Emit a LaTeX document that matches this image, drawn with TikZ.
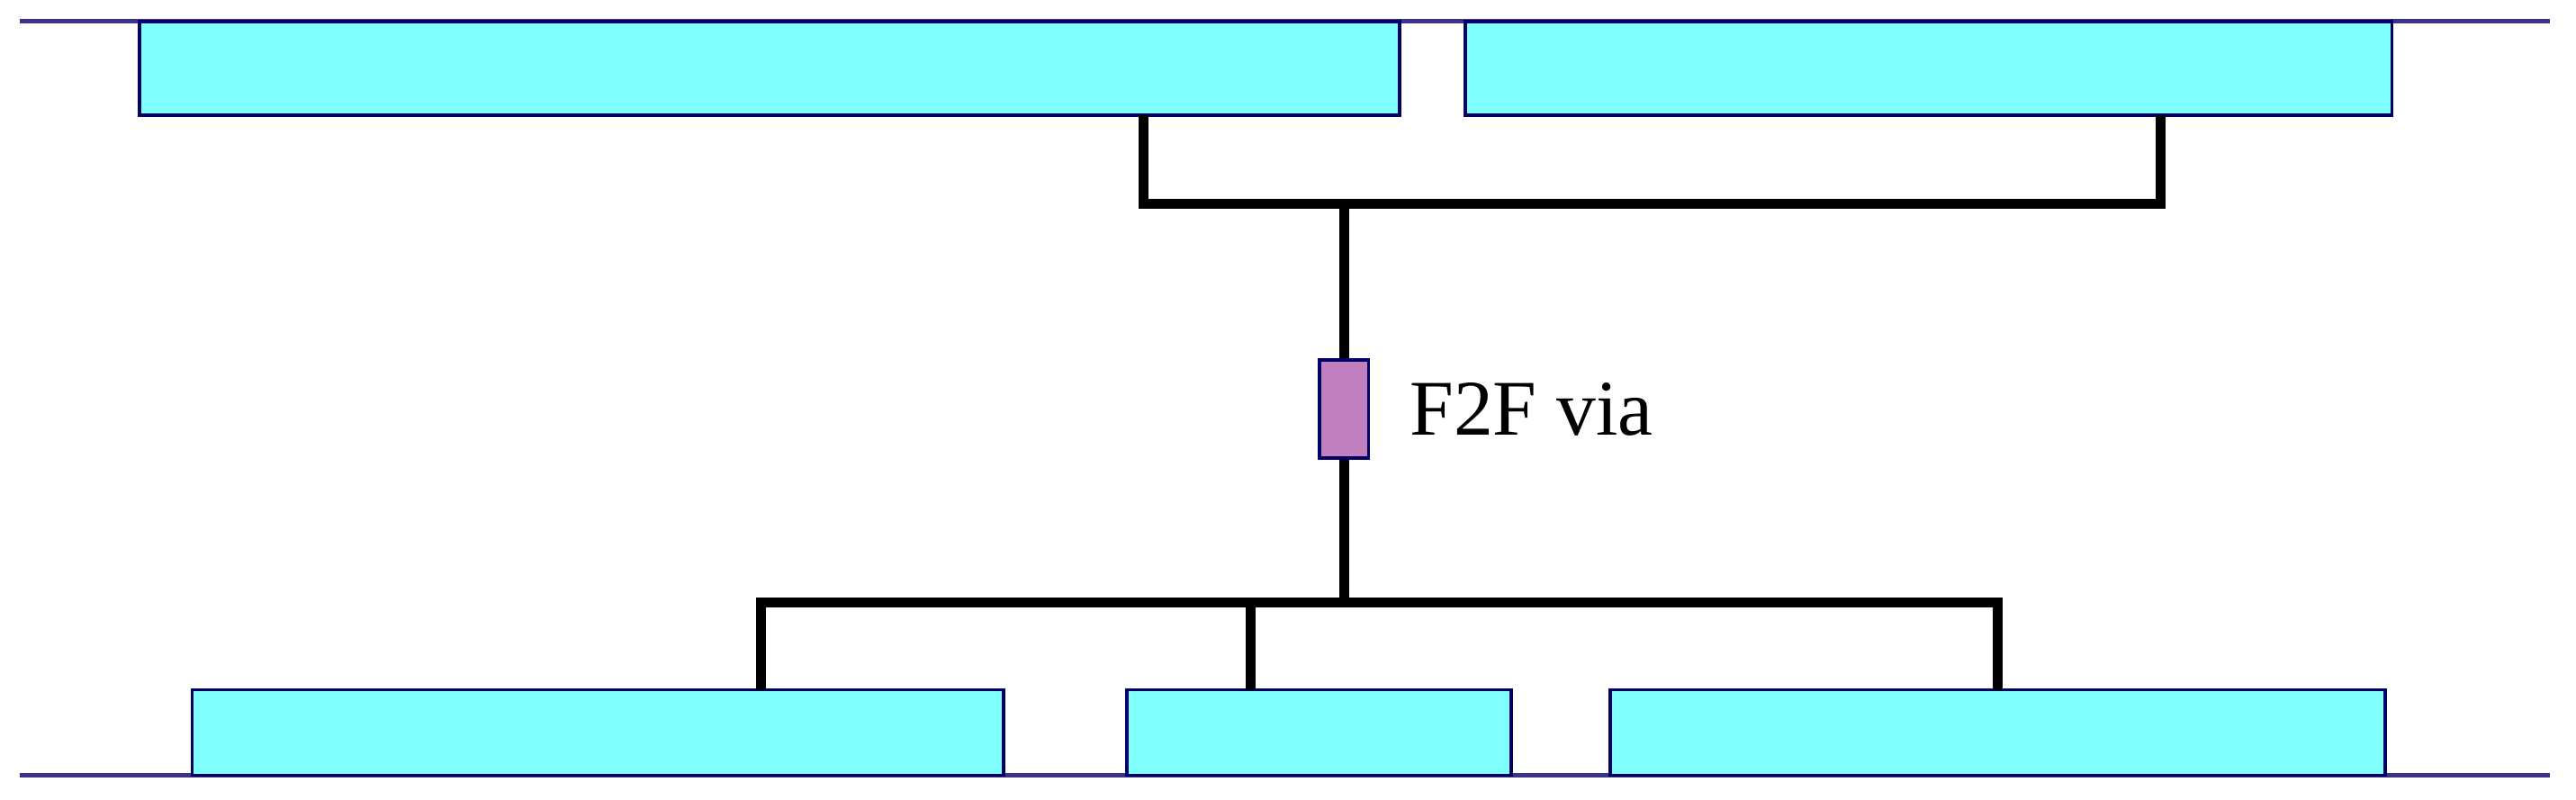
\documentclass[tikz,border=0pt]{standalone}
\usepackage{fontspec}
\setmainfont{Liberation Serif}
\begin{document}
\begin{tikzpicture}[x=1pt,y=-1pt,
  cell/.style={draw=blue!40!black,line width=2pt,fill={rgb,255:red,128;green,255;blue,255}},
  wire/.style={line width=6pt,line cap=butt,line join=miter},
  rail/.style={draw={rgb,255:red,60;green,50;blue,140},line width=3pt}]
\useasboundingbox (0,0) rectangle (1568,487);
\draw[rail] (12,13) -- (1552,13);
\draw[rail] (12,472) -- (1552,472);
\draw[cell] (85,13) rectangle (852,70);
\draw[cell] (892,13) rectangle (1456,70);
\draw[cell] (117,420) rectangle (611,472);
\draw[cell] (686,420) rectangle (920,472);
\draw[cell] (980,420) rectangle (1452,472);
\coordinate (t1) at (696,70); \coordinate (t2) at (1315,70);
\coordinate (b1) at (463,420); \coordinate (b2) at (761,420); \coordinate (b3) at (1216,420);
\node[draw=blue!40!black,line width=2pt,fill={rgb,255:red,192;green,128;blue,192},minimum width=30pt,minimum height=60pt,inner sep=0pt] (via) at (818,249) {};
\draw[wire] (t1) |- (1315,124) -- (t2);
\draw[wire] (818,124) -- (via.north);
\draw[wire] (via.south) -- (818,367);
\draw[wire] (b1) |- (1216,367) -- (b3);
\draw[wire] (b2) -- (761,367);
\node[anchor=west,font=\fontsize{48}{48}\selectfont,inner sep=0pt] (lab) at (858,249) {F2F via};
\end{tikzpicture}
\end{document}
